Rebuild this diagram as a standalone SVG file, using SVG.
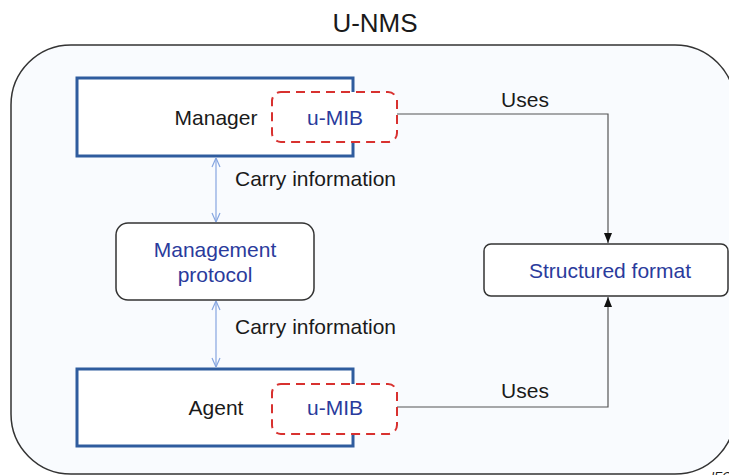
<svg xmlns="http://www.w3.org/2000/svg" width="729" height="475" viewBox="0 0 729 475">
<defs>
<style>
.t{font-family:"Liberation Sans",Arial,sans-serif;font-size:21px;fill:#1a1a1a}
.b{fill:#2a3b9c}
.main{fill:#fff;stroke:#2f5c9e;stroke-width:3}
.mib{fill:#fff;stroke:#d8312f;stroke-width:2;stroke-dasharray:9 6}
.rb{fill:#fff;stroke:#333;stroke-width:1.5}
.carry{stroke:#86a6e0;stroke-width:1.2;fill:none}
.use{stroke:#555;stroke-width:1.2;fill:none}
</style>
<marker id="open" viewBox="0 0 10 10" refX="10" refY="5" markerWidth="10" markerHeight="10" markerUnits="userSpaceOnUse" orient="auto-start-reverse">
<path d="M1,1 L10,5 L1,9" fill="none" stroke="#86a6e0" stroke-width="1.2"/>
</marker>
<marker id="fill" viewBox="0 0 10 10" refX="10" refY="5" markerWidth="10" markerHeight="10" markerUnits="userSpaceOnUse" orient="auto">
<path d="M0,1 L10,5 L0,9 Z" fill="#111"/>
</marker>
</defs>
<rect width="729" height="475" fill="#fff"/>
<g id="frame">
<rect x="11" y="45" width="724" height="429" rx="60" ry="60" fill="#f9fbfe" stroke="#333" stroke-width="1.5"/>
<text class="t" x="375" y="32" text-anchor="middle" style="font-size:26px">U-NMS</text>
<text class="t" x="711" y="481" style="font-size:12px;font-style:italic">IEC</text>
</g>
<g id="connectors">
<line class="carry" x1="216" y1="158" x2="216" y2="222" marker-start="url(#open)" marker-end="url(#open)"/>
<text class="t" x="235" y="186">Carry information</text>
<line class="carry" x1="216" y1="301" x2="216" y2="367" marker-start="url(#open)" marker-end="url(#open)"/>
<text class="t" x="235" y="334">Carry information</text>
<polyline class="use" points="397,114 608,114 608,243" marker-end="url(#fill)"/>
<text class="t" x="525" y="107" text-anchor="middle">Uses</text>
<polyline class="use" points="397,407 608,407 608,297" marker-end="url(#fill)"/>
<text class="t" x="525" y="398" text-anchor="middle">Uses</text>
</g>
<g id="manager">
<rect class="main" x="77" y="78" width="276" height="78"/>
<text class="t" x="216" y="125" text-anchor="middle">Manager</text>
</g>
<g id="manager-umib">
<rect class="mib" x="272" y="92" width="125" height="50" rx="9"/>
<text class="t b" x="335" y="125" text-anchor="middle">u-MIB</text>
</g>
<g id="protocol">
<rect class="rb" x="116" y="223" width="198" height="77" rx="12"/>
<text class="t b" x="215" y="257" text-anchor="middle">Management</text>
<text class="t b" x="215" y="282" text-anchor="middle">protocol</text>
</g>
<g id="structured">
<rect class="rb" x="484" y="244" width="244" height="52" rx="7"/>
<text class="t b" x="610" y="278" text-anchor="middle">Structured format</text>
</g>
<g id="agent">
<rect class="main" x="77" y="369" width="276" height="77"/>
<text class="t" x="216" y="415" text-anchor="middle">Agent</text>
</g>
<g id="agent-umib">
<rect class="mib" x="272" y="384" width="125" height="50" rx="9"/>
<text class="t b" x="335" y="415" text-anchor="middle">u-MIB</text>
</g>
</svg>
